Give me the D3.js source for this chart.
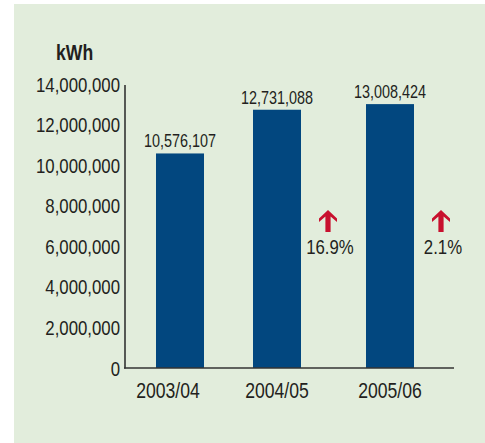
<!DOCTYPE html>
<html>
<head>
<meta charset="utf-8">
<script src="https://cdn.jsdelivr.net/npm/d3@7"></script>
<style>
  body { margin: 0; background: #fff; }
  text { font-family: "Liberation Sans", Arial, sans-serif; fill: #231f20; }
</style>
</head>
<body>
<div id="chart"></div>
<script>
var categories = ['2003/04', '2004/05', '2005/06'];
var values = [10576107, 12731088, 13008424];
var changeLabels = ['', '16.9%', '2.1%'];
var yTicks = [0, 2000000, 4000000, 6000000, 8000000, 10000000, 12000000, 14000000];

var width = 485,
    height = 443,
    narrow = 0.8;   // no narrow font installed, so squeeze the glyphs

var svg = d3.select('#chart').append('svg')
    .attr('width', width)
    .attr('height', height);

function place(x, y) {
  return 'translate(' + x + ',' + y + ') scale(' + narrow + ',1)';
}

// panel
svg.append('rect')
    .attr('x', 14).attr('y', 4)
    .attr('width', 471).attr('height', 439)
    .style('fill', '#e2eddc');

var yScale = d3.scaleLinear()
    .domain([0, 14000000])
    .range([368, 84]);

// bar centres are not evenly spaced in the original
var xScale = d3.scaleOrdinal()
    .domain(categories)
    .range([180, 277, 390]);

var barWidth = 48;
var fmt = d3.format(',');

// y tick labels
svg.selectAll('.ytick').data(yTicks)
  .enter().append('text')
    .attr('class', 'ytick')
    .attr('transform', function(d) { return place(120, yScale(d)); })
    .attr('dy', '0.36em')
    .attr('text-anchor', 'end')
    .style('font-size', '21px')
    .text(function(d) { return fmt(d); });

svg.append('text')
    .attr('transform', place(56, 60))
    .style('font-size', '22px')
    .style('font-weight', 'bold')
    .text('kWh');

// bars
svg.selectAll('.bar').data(values)
  .enter().append('rect')
    .attr('class', 'bar')
    .attr('x', function(d, i) { return xScale(categories[i]) - barWidth / 2; })
    .attr('y', function(d) { return yScale(d); })
    .attr('width', barWidth)
    .attr('height', function(d) { return yScale(0) - yScale(d); })
    .style('fill', '#02477f');

// value labels
svg.selectAll('.val').data(values)
  .enter().append('text')
    .attr('class', 'val')
    .attr('transform', function(d, i) { return place(xScale(categories[i]), yScale(d) - 6); })
    .attr('text-anchor', 'middle')
    .style('font-size', '18px')
    .text(function(d) { return fmt(d); });

// axes lines
svg.append('line')
    .attr('x1', 125).attr('x2', 125)
    .attr('y1', 85).attr('y2', 368.5)
    .style('stroke', '#333').style('stroke-width', 1.6);
svg.append('line')
    .attr('x1', 124).attr('x2', 454)
    .attr('y1', 368).attr('y2', 368)
    .style('stroke', '#333').style('stroke-width', 1.6);

// x labels
var labelShift = [-12, 0, 0];
svg.selectAll('.xlab').data(categories)
  .enter().append('text')
    .attr('class', 'xlab')
    .attr('transform', function(d, i) { return place(xScale(d) + labelShift[i], 398); })
    .attr('text-anchor', 'middle')
    .style('font-size', '22px')
    .text(function(d) { return d; });

// change arrows + labels
var changes = changeLabels.map(function(c, i) { return { label: c, cat: categories[i] }; })
    .filter(function(c) { return c.label; });

var arrowX = function(d) { return xScale(d.cat) + barWidth / 2 + 27; };

svg.selectAll('.arrow').data(changes)
  .enter().append('path')
    .attr('class', 'arrow')
    .attr('transform', function(d) { return 'translate(' + arrowX(d) + ',210)'; })
    .attr('d', 'M0,0 L9,8.5 L9,12 L2.6,6.5 L2.6,22 L-2.6,22 L-2.6,6.5 L-9,12 L-9,8.5 Z')
    .style('fill', '#c8102e');

svg.selectAll('.chg').data(changes)
  .enter().append('text')
    .attr('class', 'chg')
    .attr('transform', function(d) { return place(arrowX(d) + 2, 254); })
    .attr('text-anchor', 'middle')
    .style('font-size', '21px')
    .text(function(d) { return d.label; });
</script>
</body>
</html>
